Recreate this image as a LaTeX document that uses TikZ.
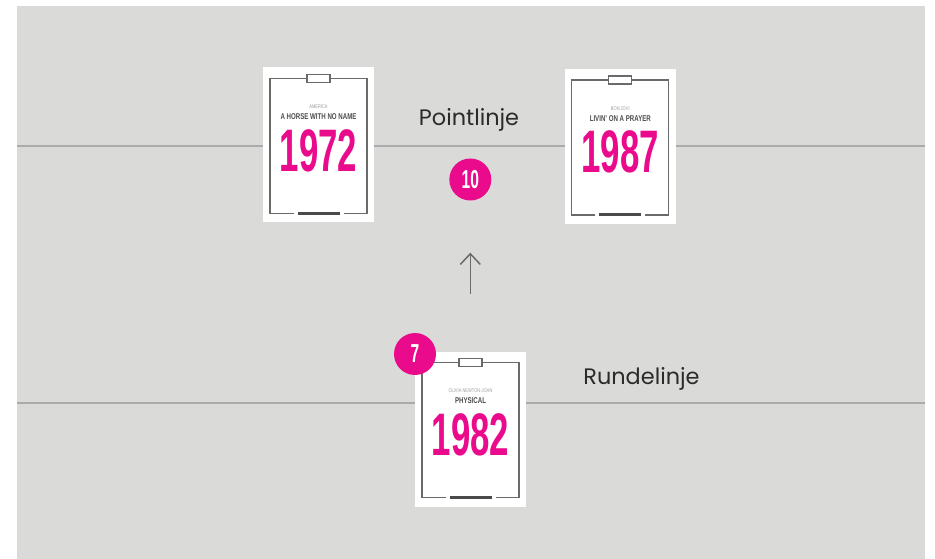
\documentclass[tikz,border=0pt]{standalone}
\usepackage{fontspec}
\setmainfont{Liberation Sans}
\newfontfamily\labelfont{Poppins}
\usetikzlibrary{arrows.meta}

\definecolor{bggray}{HTML}{DADAD8}
\definecolor{linegray}{HTML}{ABABAB}
\definecolor{framegray}{HTML}{6A6A6A}
\definecolor{bargray}{HTML}{4A4A4A}
\definecolor{titlegray}{HTML}{4D4D4D}
\definecolor{artistgray}{HTML}{9C9C9C}
\definecolor{labelgray}{HTML}{2B2B2B}
\definecolor{hotpink}{HTML}{EA0A8C}

\tikzset{
	card/.style={fill=white, minimum width=83.25pt, minimum height=116.25pt, inner sep=0},
	cardframe/.style={draw=framegray, line width=0.8pt},
	artist/.style={anchor=base, inner sep=0, text=artistgray, font=\fontsize{4}{4}\selectfont},
	songtitle/.style={anchor=base, inner sep=0, text=titlegray, font=\fontsize{6.3}{6.3}\selectfont\bfseries},
	year/.style={anchor=base, inner sep=0, text=hotpink, font=\fontsize{45}{45}\selectfont\bfseries},
	badge/.style={circle, fill=hotpink, minimum size=31.5pt, inner sep=0, text=white, font=\fontsize{19.5}{19.5}\selectfont\bfseries},
	linelabel/.style={anchor=base, inner sep=0, text=labelgray, font=\labelfont\fontsize{16.8}{16.8}\selectfont},
}

% one song poster: name, position, artist, title, year
\newcommand{\songcard}[5]{%
	\node[card] (#1) at (#2) {};
	\draw[cardframe] ([shift={(-25,68.5)}]#1.center) -- ([shift={(-48.5,68.5)}]#1.center)
		-- ([shift={(-48.5,-66.5)}]#1.center) -- ([shift={(48.5,-66.5)}]#1.center)
		-- ([shift={(48.5,68.5)}]#1.center) -- ([shift={(25,68.5)}]#1.center);
	\draw[cardframe, fill=white] ([shift={(-11.5,-70.5)}]#1.center) rectangle ([shift={(11.5,-62.5)}]#1.center);
	\fill[bargray] ([shift={(-21,67)}]#1.center) rectangle ([shift={(21,70)}]#1.center);
	\node[artist] (#1-artist) at ([shift={(0,-36.3)}]#1.center) {\scalebox{0.75}[1]{#3}};
	\node[songtitle] (#1-title) at ([shift={(0,-25.3)}]#1.center) {\scalebox{0.73}[1]{#4}};
	\node[year] (#1-year) at ([shift={(0,26.4)}]#1.center) {\scalebox{0.58}[1]{#5}};
}

\begin{document}
\begin{tikzpicture}[x=0.75pt, y=-0.75pt]
	% Page size and grey panel
	\def\pagew{935}
	\def\pageh{559}
	\useasboundingbox (0,0) rectangle (\pagew,\pageh);
	\fill[bggray] (17,6) rectangle (925,\pageh);
	
	% Point line and round line
	\coordinate (pointL) at (17,146);
	\coordinate (pointR) at (925,146);
	\coordinate (rundeL) at (17,403.5);
	\coordinate (rundeR) at (925,403.5);
	\draw[linegray, line width=1.5pt] (pointL) -- (pointR);
	\draw[linegray, line width=1.5pt] (rundeL) -- (rundeR);
	
	% Posters
	\songcard{y1972}{318.5,145}{AMERICA}{A HORSE WITH NO NAME}{1972}
	\songcard{y1987}{620.3,146.5}{BON JOVI}{LIVIN' ON A PRAYER}{1987}
	\songcard{y1982}{470.5,429.2}{OLIVIA NEWTON-JOHN}{PHYSICAL}{1982}
	
	% Line names
	\node[linelabel] (pointlbl) at (469,126) {Pointlinje};
	\node[linelabel] (rundelbl) at (641.5,384) {Rundelinje};
	
	% Scores
	\node[badge] (score10) at (470.3,179.5) {\scalebox{0.6}[1]{10}};
	\node[badge] (score7) at (415,354) {\scalebox{0.6}[1]{7}};
	
	% Move up
	\coordinate (moveA) at (470.3,294);
	\coordinate (moveB) at (470.3,252.7);
	\draw[-{Straight Barb[length=8pt, width=15pt]}, draw=framegray, line width=1.1pt] (moveA) -- (moveB);
\end{tikzpicture}
\end{document}
